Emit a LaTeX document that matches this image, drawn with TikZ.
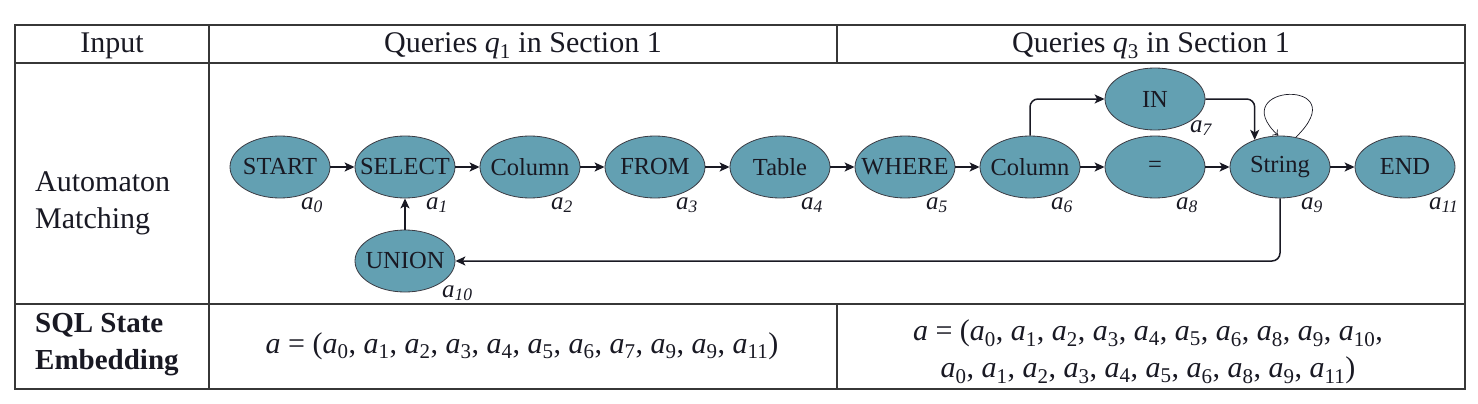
\documentclass[tikz,border=0pt]{standalone}
\usepackage{fontspec}
\setmainfont{Liberation Serif}
\usetikzlibrary{shapes.geometric,arrows.meta}
\definecolor{nodefill}{RGB}{99,160,178}
\definecolor{rulecol}{RGB}{55,55,55}
\definecolor{ink}{RGB}{25,25,35}
\newcommand\zw[1]{\makebox[0pt]{#1}}
\newcommand\lab[1]{{\itshape a\textsubscript{#1}}}
\newcommand\av[1]{\textit{a}\textsubscript{#1}}
\begin{document}
\begin{tikzpicture}[x=1pt,y=1pt,
  state/.style={ellipse, draw=ink!85, line width=0.8pt, fill=nodefill,
    minimum width=100pt, minimum height=62pt, inner sep=0pt,
    font=\fontsize{24.5}{26}\selectfont, text=ink},
  lbl/.style={anchor=base west, inner sep=0pt, font=\fontsize{25}{26}\selectfont, text=ink},
  edge/.style={line width=1.5pt, draw=ink, -{Stealth[length=10pt,width=9pt,inset=2.5pt]}},
  gridline/.style={line width=1.8pt, draw=rulecol},
  txt/.style={font=\fontsize{30}{37}\selectfont, text=ink, inner sep=0pt},
]
\useasboundingbox (0,0) rectangle (1478,-404);
% table
\draw[gridline] (15,-25) rectangle (1465,-389);
\draw[gridline] (15,-63) -- (1465,-63);
\draw[gridline] (15,-304) -- (1465,-304);
\draw[gridline] (209,-25) -- (209,-389);
\draw[gridline] (837,-25) -- (837,-63);
\draw[gridline] (837,-304) -- (837,-389);
% header
\node[txt] (hin) at (112,-46) {Input};
\node[txt] (hq1) at (523,-46) {Queries {\itshape q}\textsubscript{1} in Section 1};
\node[txt] (hq3) at (1151,-46) {Queries {\itshape q}\textsubscript{3} in Section 1};
% left column
\node[txt, anchor=west, align=left] (am) at (35,-203) {Automaton\\Matching};
\node[txt, anchor=west, align=left, font=\bfseries\fontsize{29}{37}\selectfont] (se) at (35,-345) {SQL State\\Embedding};
% states
\node[state] (n0) at (280,-167) {\zw{START}};
\node[state] (n1) at (405,-167) {\zw{SELECT}};
\node[state] (n2) at (530,-167) {\zw{Column}};
\node[state] (n3) at (655,-167) {\zw{FROM}};
\node[state] (n4) at (780,-167) {\zw{Table}};
\node[state] (n5) at (905,-167) {\zw{WHERE}};
\node[state] (n6) at (1030,-167) {\zw{Column}};
\node[state] (n8) at (1155,-167) {\zw{=}};
\node[state] (n9) at (1280,-167) {\zw{String}};
\node[state] (n11) at (1405,-167) {\zw{END}};
\node[state] (n7) at (1155,-99) {\zw{IN}};
\node[state] (n10) at (405,-261) {\zw{UNION}};
% labels
\node[lbl] (l0) at (301,-209) {\lab{0}};
\node[lbl] (l1) at (426,-209) {\lab{1}};
\node[lbl] (l2) at (551,-209) {\lab{2}};
\node[lbl] (l3) at (676,-209) {\lab{3}};
\node[lbl] (l4) at (801,-209) {\lab{4}};
\node[lbl] (l5) at (926,-209) {\lab{5}};
\node[lbl] (l6) at (1051,-209) {\lab{6}};
\node[lbl] (l8) at (1176,-209) {\lab{8}};
\node[lbl] (l9) at (1301,-209) {\lab{9}};
\node[lbl] (l11) at (1429,-209) {\lab{11}};
\node[lbl] (l7) at (1190,-132) {\lab{7}};
\node[lbl] (l10) at (442,-297) {\lab{10}};
% edges
\draw[edge] (n0) -- (n1);
\draw[edge] (n1) -- (n2);
\draw[edge] (n2) -- (n3);
\draw[edge] (n3) -- (n4);
\draw[edge] (n4) -- (n5);
\draw[edge] (n5) -- (n6);
\draw[edge] (n6) -- (n8);
\draw[edge] (n8) -- (n9);
\draw[edge] (n9) -- (n11);
\draw[edge] (n10) -- (n1);
\draw[edge, rounded corners=8pt] (n6.north) |- (n7.west);
\draw[edge, rounded corners=8pt] (n7.east) -| (n9.133);
\draw[edge, rounded corners=8pt] (n9.south) |- (n10.east);
\draw[line width=0.7pt, draw=ink, -{To[length=5pt,width=8pt]}] (n9.62) .. controls +(62,60) and +(-56,52) .. (n9.93);
% formulas
\node[txt] (f1) at (522,-346) {\textit{a} = (\av{0}, \av{1}, \av{2}, \av{3}, \av{4}, \av{5}, \av{6}, \av{7}, \av{9}, \av{9}, \av{11})};
\node[txt, align=center] (f3) at (1148,-352) {\textit{a} = (\av{0}, \av{1}, \av{2}, \av{3}, \av{4}, \av{5}, \av{6}, \av{8}, \av{9}, \av{10},\\ \av{0}, \av{1}, \av{2}, \av{3}, \av{4}, \av{5}, \av{6}, \av{8}, \av{9}, \av{11})};
\end{tikzpicture}
\end{document}
